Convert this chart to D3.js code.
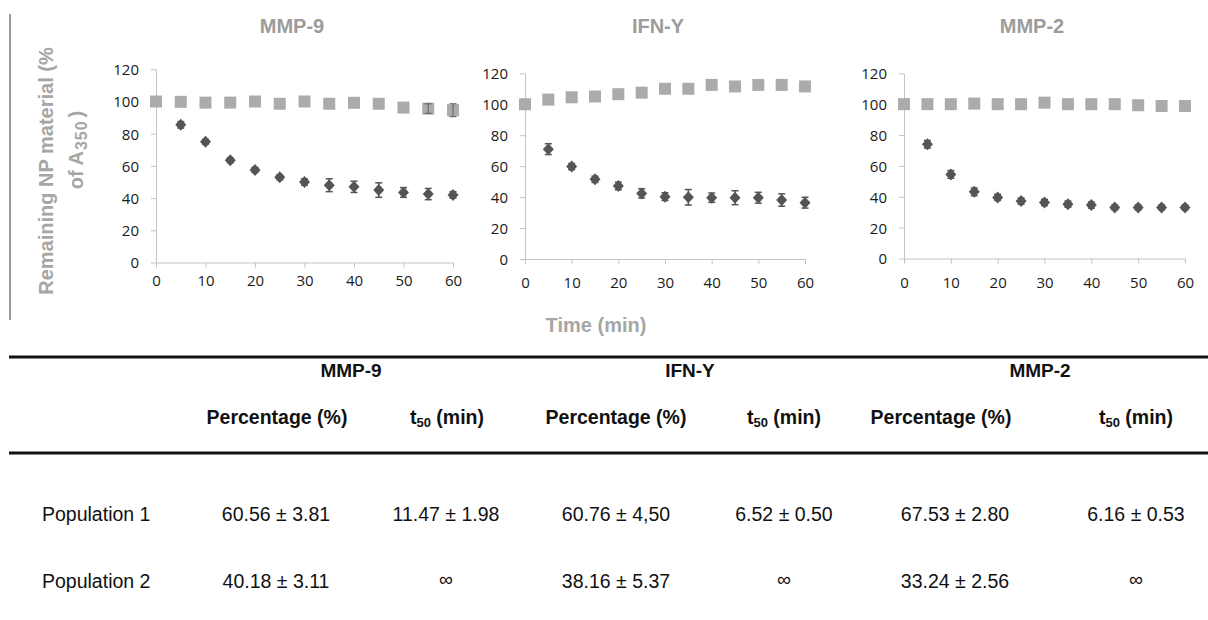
<!DOCTYPE html>
<html>
<head>
<meta charset="utf-8">
<script src="https://cdn.jsdelivr.net/npm/d3@7"></script>
<style>
  html, body { margin: 0; padding: 0; background: #fff; }
  svg { display: block; }
</style>
</head>
<body>
<svg id="chart" width="1208" height="620"></svg>
<script>
// ---------- DATA ----------
const times = [0, 5, 10, 15, 20, 25, 30, 35, 40, 45, 50, 55, 60];
const panelTitles = ["MMP-9", "IFN-Y", "MMP-2"];

const mmp9Control    = [100, 99.8, 99.3, 99.3, 100, 98.6, 100, 98.6, 99.2, 98.6, 96.2, 95.6, 94.6];
const mmp9ControlErr = [0, 0, 0, 0, 0, 0, 0, 0, 0, 0, 0, 3, 4];
const mmp9Enzyme     = [null, 85.5, 75, 63.5, 57.5, 53, 50, 48, 47, 45, 43.5, 42.5, 42];
const mmp9EnzymeErr  = [0, 2, 1.5, 1.5, 1.5, 1.5, 2, 4, 3.5, 4.5, 3, 3.5, 2];

const ifnControl    = [100, 103, 104.5, 105, 106.5, 107.5, 110, 110, 112.5, 111.5, 112.5, 112.5, 111.5];
const ifnControlErr = [0, 0, 0, 0, 0, 0, 0, 0, 0, 0, 0, 0, 0];
const ifnEnzyme     = [null, 71, 59.7, 51.5, 47.2, 42.4, 40.3, 39.9, 39.6, 39.6, 39.6, 38.1, 36.4];
const ifnEnzymeErr  = [0, 3.5, 2, 2, 2.5, 3, 2.5, 5, 3, 4.5, 3.5, 4, 3.5];

const mmp2Control    = [100, 100, 100, 100.4, 100, 100, 101, 100, 100, 100, 99.3, 98.8, 98.8];
const mmp2ControlErr = [0, 0, 0, 0, 0, 0, 0, 0, 0, 0, 0, 0, 0];
const mmp2Enzyme     = [null, 74, 54.5, 43.2, 39.6, 37.2, 36.3, 35.2, 34.6, 33.1, 33.1, 33.1, 33.1];
const mmp2EnzymeErr  = [0, 2.5, 2.5, 2.5, 2, 2, 2, 2, 2, 1.5, 1.5, 1.5, 1.5];

const yTicks = [0, 20, 40, 60, 80, 100, 120];
const xTicks = [0, 10, 20, 30, 40, 50, 60];

const tableGroups = ["MMP-9", "IFN-Y", "MMP-2"];
const tableSubheads = ["Percentage (%)", "t50 (min)", "Percentage (%)", "t50 (min)", "Percentage (%)", "t50 (min)"];
const rowLabels = ["Population 1", "Population 2"];
const pop1Values = ["60.56 ± 3.81", "11.47 ± 1.98", "60.76 ± 4,50", "6.52 ± 0.50", "67.53 ± 2.80", "6.16 ± 0.53"];
const pop2Values = ["40.18 ± 3.11", "∞", "38.16 ± 5.37", "∞", "33.24 ± 2.56", "∞"];

// ---------- LAYOUT ----------
const panelLayout = [
  { x0: 156, x1: 453, yTop: 69.3, yBot: 262.5, titleX: 292, labelY: 281 },
  { x0: 525, x1: 805, yTop: 73.3, yBot: 259,   titleX: 658, labelY: 283 },
  { x0: 904, x1: 1185, yTop: 73.3, yBot: 258.5, titleX: 1032, labelY: 283 }
];
const seriesByPanel = [
  { ctrl: mmp9Control, ctrlErr: mmp9ControlErr, enz: mmp9Enzyme, enzErr: mmp9EnzymeErr },
  { ctrl: ifnControl,  ctrlErr: ifnControlErr,  enz: ifnEnzyme,  enzErr: ifnEnzymeErr },
  { ctrl: mmp2Control, ctrlErr: mmp2ControlErr, enz: mmp2Enzyme, enzErr: mmp2EnzymeErr }
];

const svg = d3.select("#chart");
const tickFont = "'Open Sans', 'DejaVu Sans', sans-serif";
const boldFont = "'Liberation Sans', Arial, sans-serif";

// left vertical rule
svg.append("line").attr("x1", 10).attr("x2", 10).attr("y1", 14).attr("y2", 320)
  .attr("stroke", "#7a7a7a").attr("stroke-width", 1.5);

// y-axis title (two lines, rotated)
svg.append("text")
  .attr("transform", "translate(53,171) rotate(-90)")
  .attr("text-anchor", "middle")
  .attr("font-family", boldFont).attr("font-weight", "bold").attr("font-size", 20)
  .attr("fill", "#a6a6a6")
  .text("Remaining NP material (%");
const yl2 = svg.append("text")
  .attr("transform", "translate(83,150) rotate(-90)")
  .attr("text-anchor", "middle")
  .attr("font-family", boldFont).attr("font-weight", "bold").attr("font-size", 20)
  .attr("fill", "#a6a6a6");
yl2.append("tspan").text("of A");
yl2.append("tspan").attr("font-size", 16).attr("dy", 4).attr("dx", 1).attr("letter-spacing", 1).text("350");
yl2.append("tspan").attr("dy", -4).attr("dx", 3).text(")");

// x-axis title
svg.append("text")
  .attr("x", 596).attr("y", 332)
  .attr("text-anchor", "middle")
  .attr("font-family", boldFont).attr("font-weight", "bold").attr("font-size", 20)
  .attr("fill", "#a6a6a6")
  .text("Time (min)");

const diamond = "M0,-6L5.5,0L0,6L-5.5,0Z";

panelLayout.forEach((L, i) => {
  const s = seriesByPanel[i];
  const x = d3.scaleLinear().domain([0, 60]).range([L.x0, L.x1]);
  const y = d3.scaleLinear().domain([0, 120]).range([L.yBot, L.yTop]);

  // title
  svg.append("text")
    .attr("x", L.titleX).attr("y", 33)
    .attr("text-anchor", "middle")
    .attr("font-family", boldFont).attr("font-weight", "bold").attr("font-size", 20)
    .attr("fill", "#9c9c9c")
    .text(panelTitles[i]);

  // y axis
  const gy = svg.append("g").attr("transform", `translate(${L.x0},0)`)
    .call(d3.axisLeft(y).tickValues(yTicks).tickSize(5).tickSizeOuter(0));
  gy.select(".domain").attr("stroke", "#c4c4c4");
  gy.selectAll(".tick line").attr("stroke", "#c4c4c4");
  gy.selectAll(".tick text")
    .attr("x", -17).attr("dy", "0.36em")
    .attr("font-family", tickFont).attr("font-size", 15).attr("fill", "#1a1a1a");

  // x axis
  const gx = svg.append("g").attr("transform", `translate(0,${L.yBot})`)
    .call(d3.axisBottom(x).tickValues(xTicks).tickSize(5).tickSizeOuter(0));
  gx.select(".domain").attr("stroke", "#c4c4c4");
  gx.selectAll(".tick line").attr("stroke", "#c4c4c4");
  gx.selectAll(".tick text")
    .attr("y", L.labelY - L.yBot + 5).attr("dy", null)
    .attr("font-family", tickFont).attr("font-size", 15).attr("fill", "#1a1a1a");

  const ctrlPts = times.map((t, k) => ({ t, v: s.ctrl[k], e: s.ctrlErr[k] }));
  const enzPts = times.map((t, k) => ({ t, v: s.enz[k], e: s.enzErr[k] })).filter(d => d.v != null);

  // control squares
  svg.append("g").selectAll("rect").data(ctrlPts).join("rect")
    .attr("x", d => x(d.t) - 6).attr("y", d => y(d.v) - 6)
    .attr("width", 12).attr("height", 12)
    .attr("fill", "#ababab");
  // control error bars
  const ce = svg.append("g").attr("stroke", "#6a6a6a").attr("stroke-width", 1.2);
  ctrlPts.filter(d => d.e > 0).forEach(d => {
    ce.append("line").attr("x1", x(d.t)).attr("x2", x(d.t)).attr("y1", y(d.v - d.e)).attr("y2", y(d.v + d.e));
    ce.append("line").attr("x1", x(d.t) - 3.5).attr("x2", x(d.t) + 3.5).attr("y1", y(d.v - d.e)).attr("y2", y(d.v - d.e));
    ce.append("line").attr("x1", x(d.t) - 3.5).attr("x2", x(d.t) + 3.5).attr("y1", y(d.v + d.e)).attr("y2", y(d.v + d.e));
  });

  // enzyme diamonds
  svg.append("g").selectAll("path").data(enzPts).join("path")
    .attr("transform", d => `translate(${x(d.t)},${y(d.v)})`)
    .attr("d", diamond)
    .attr("fill", "#555555");
  const ee = svg.append("g").attr("stroke", "#555555").attr("stroke-width", 1.5);
  enzPts.forEach(d => {
    ee.append("line").attr("x1", x(d.t)).attr("x2", x(d.t)).attr("y1", y(d.v - d.e)).attr("y2", y(d.v + d.e));
    ee.append("line").attr("x1", x(d.t) - 3.5).attr("x2", x(d.t) + 3.5).attr("y1", y(d.v - d.e)).attr("y2", y(d.v - d.e));
    ee.append("line").attr("x1", x(d.t) - 3.5).attr("x2", x(d.t) + 3.5).attr("y1", y(d.v + d.e)).attr("y2", y(d.v + d.e));
  });
});

// ---------- TABLE ----------
const tableFont = "'Liberation Sans', Arial, sans-serif";
const groupCenters = [351, 690, 1040];
const headCenters = [277, 447, 616, 784, 941, 1136];
const valueCenters = [276, 446, 616, 784, 955, 1136];

svg.append("line").attr("x1", 9).attr("x2", 1208).attr("y1", 357).attr("y2", 357)
  .attr("stroke", "#111").attr("stroke-width", 3);
svg.append("line").attr("x1", 9).attr("x2", 1208).attr("y1", 453).attr("y2", 453)
  .attr("stroke", "#111").attr("stroke-width", 3);

function cell(xc, yb, size, bold, anchor) {
  return svg.append("text")
    .attr("x", xc).attr("y", yb)
    .attr("text-anchor", anchor || "middle")
    .attr("font-family", tableFont)
    .attr("font-weight", bold ? "bold" : "normal")
    .attr("font-size", size)
    .attr("fill", "#111");
}

tableGroups.forEach((g, i) => {
  cell(groupCenters[i], 377, 19, true).text(g);
});

tableSubheads.forEach((h, i) => {
  const t = cell(headCenters[i], 424, 19.5, true);
  if (h.startsWith("t50")) {
    t.append("tspan").text("t");
    t.append("tspan").attr("font-size", 13).attr("dy", 3).text("50");
    t.append("tspan").attr("dy", -3).text(" (min)");
  } else {
    t.text(h);
  }
});

const rowYs = [521, 588];
[pop1Values, pop2Values].forEach((vals, r) => {
  cell(42, rowYs[r], 19.5, false, "start").text(rowLabels[r]);
  vals.forEach((v, c) => {
    cell(valueCenters[c], rowYs[r] - (v === "∞" ? 2 : 0), 19.5, false).text(v);
  });
});
</script>
</body>
</html>
